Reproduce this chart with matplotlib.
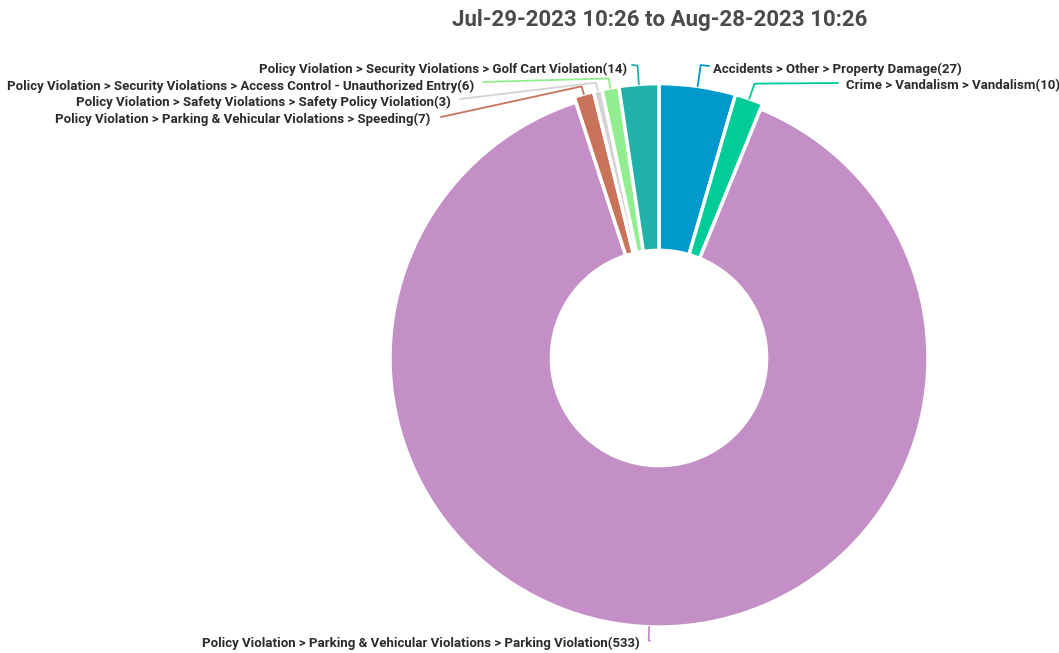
import numpy as np
import matplotlib.pyplot as plt

plt.rcParams['font.family'] = ['Roboto', 'DejaVu Sans']

# data, clockwise from 12 o'clock
labels = ['Accidents > Other > Property Damage',
          'Crime > Vandalism > Vandalism',
          'Policy Violation > Parking & Vehicular Violations > Parking Violation',
          'Policy Violation > Parking & Vehicular Violations > Speeding',
          'Policy Violation > Safety Violations > Safety Policy Violation',
          'Policy Violation > Security Violations > Access Control - Unauthorized Entry',
          'Policy Violation > Security Violations > Golf Cart Violation']
counts = [27, 10, 533, 7, 3, 6, 14]
colors = ['#0099cc', '#00cc99', '#c48fc6', '#c8735a', '#d3d3d3', '#90ee90', '#20b2aa']
title = 'Jul-29-2023 10:26 to Aug-28-2023 10:26'

W, H = 1059, 653
cx, cy, R = 659, 358, 269  # donut centre / radius in pixels

def px(x, y):
    # pixel (from top-left) -> data units
    return (x - cx) / R, (cy - y) / R

# label layout: elbow radius, line end (px), text anchor (px), alignment
layout = [
    (1.10, (709, 66), (713, 69), 'left'),
    (1.08, (838, 83), (846, 86), 'left'),
    (1.05, (650, 641), (640, 643), 'right'),
    (1.05, (441, 117), (430, 119), 'right'),
    (1.05, (460, 99), (451, 102), 'right'),
    (1.056, (483, 82), (474, 86), 'right'),
    (1.09, (632, 65), (627, 69), 'right'),
]

fig = plt.figure(figsize=(W / 100, H / 100), dpi=100)
ax = fig.add_axes([0, 0, 1, 1])

wedges, _ = ax.pie(counts, colors=colors, startangle=90, counterclock=False,
                   radius=1.0, wedgeprops=dict(width=0.6, edgecolor='white', linewidth=2.5))

# pie resets the limits, so set them afterwards
ax.set_xlim(-cx / R, (W - cx) / R)
ax.set_ylim(-(H - cy) / R, cy / R)
ax.set_aspect('equal')
ax.axis('off')

for i, w in enumerate(wedges):
    if counts[i] < 100:  # small slices sit slightly proud of the ring
        w.set_radius(1.02)
        w.set_width(0.62)
    mid = np.deg2rad((w.theta1 + w.theta2) / 2)
    r_edge = w.r
    r_elb, line_end, txt_pos, ha = layout[i]
    p0 = (r_edge * np.cos(mid), r_edge * np.sin(mid))
    p1 = (r_elb * np.cos(mid), r_elb * np.sin(mid))
    p2 = px(*line_end)
    ax.plot([p0[0], p1[0], p2[0]], [p0[1], p1[1], p2[1]], color=colors[i], lw=1.3,
            solid_capstyle='round', zorder=1)
    tx, ty = px(*txt_pos)
    ax.text(tx, ty, '%s(%d)' % (labels[i], counts[i]), ha=ha, va='center',
            fontsize=9.5, fontweight='bold', color='#2b2b2b')

fig.text(660 / W, 1 - 20 / H, title, ha='center', va='center',
         fontsize=16, fontweight='bold', color='#4a4a4a')

plt.savefig('out.png', dpi=100)
